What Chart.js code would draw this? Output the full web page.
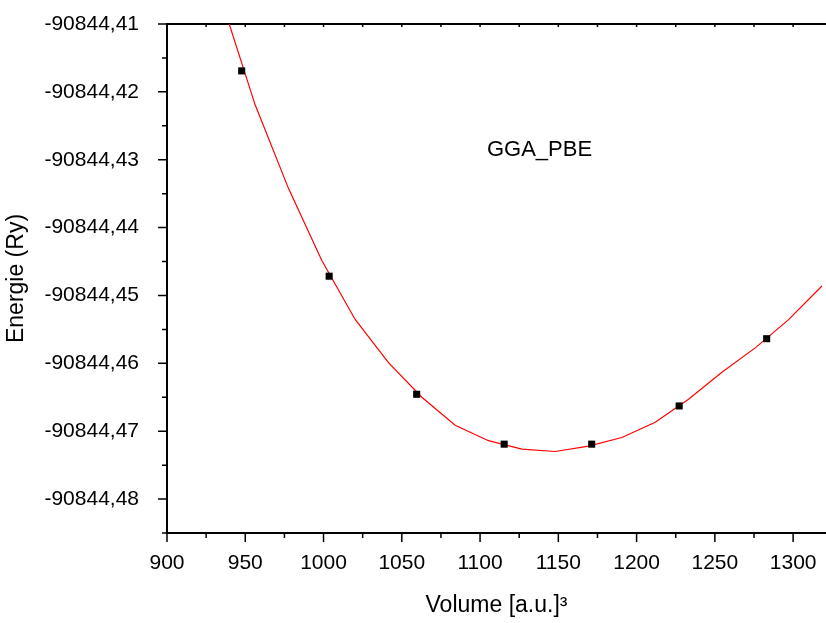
<!DOCTYPE html>
<html>
<head>
<meta charset="utf-8">
<script src="https://cdn.jsdelivr.net/npm/chart.js@4"></script>
<style>
  html, body { margin: 0; padding: 0; background: #fff; }
  #wrap { width: 826px; height: 623px; }
</style>
</head>
<body>
<div id="wrap"><canvas id="eosChart" width="826" height="623"></canvas></div>
<script>
// measured points (volume in a.u.^3, energy in Ry)
const volumes = [947.7, 1003.6, 1059.5, 1115.4, 1171.3, 1227.2, 1283.1];
const energies = [-90844.41691, -90844.44716, -90844.46456, -90844.47191, -90844.47191, -90844.46628, -90844.45637];

// fitted curve
const fitVolumes = [935.0, 956.3, 977.6, 998.9, 1020.2, 1041.5, 1062.8, 1084.1, 1105.4, 1126.7,
                    1148.0, 1169.3, 1190.6, 1211.9, 1233.2, 1254.5, 1275.8, 1297.1, 1318.4];
const fitEnergies = [-90844.40660, -90844.42191, -90844.43422, -90844.44485, -90844.45353, -90844.45990,
                     -90844.46500, -90844.46912, -90844.47140, -90844.47265, -90844.47299, -90844.47220,
                     -90844.47093, -90844.46868, -90844.46529, -90844.46132, -90844.45772, -90844.45356,
                     -90844.44860];

const xTicks = [900, 950, 1000, 1050, 1100, 1150, 1200, 1250, 1300];
const yTicks = [-90844.41, -90844.42, -90844.43, -90844.44, -90844.45, -90844.46, -90844.47, -90844.48];

const FONT = "'Liberation Sans', Arial, Helvetica, sans-serif";

const axesPlugin = {
    id: 'originAxes',
    beforeDatasetsDraw(chart) {
        const {ctx, chartArea: a, scales: {x, y}} = chart;
        ctx.save();
        ctx.strokeStyle = '#000';
        ctx.lineWidth = 2;
        ctx.beginPath();
        // left, bottom and top lines
        ctx.moveTo(a.left, a.top); ctx.lineTo(a.left, a.bottom);
        ctx.moveTo(a.left - 1, a.bottom); ctx.lineTo(a.right, a.bottom);
        ctx.moveTo(a.left - 1, a.top); ctx.lineTo(a.right, a.top);
        ctx.stroke();

        ctx.lineWidth = 1.5;
        ctx.beginPath();
        // x ticks, major + minor (halfway)
        xTicks.forEach(v => {
            const px = x.getPixelForValue(v);
            ctx.moveTo(px, a.bottom); ctx.lineTo(px, a.bottom + 9);
            ctx.moveTo(px, a.top); ctx.lineTo(px, a.top + 3);
            const ph = x.getPixelForValue(v + (xTicks[1] - xTicks[0]) / 2);
            if (ph < a.right) {
                ctx.moveTo(ph, a.bottom); ctx.lineTo(ph, a.bottom + 5);
                ctx.moveTo(ph, a.top); ctx.lineTo(ph, a.top + 3);
            }
        });
        // y ticks
        const yStep = yTicks[0] - yTicks[1];
        yTicks.forEach(v => {
            const py = y.getPixelForValue(v);
            ctx.moveTo(a.left, py); ctx.lineTo(a.left - 9, py);
            const ph = y.getPixelForValue(v - yStep / 2);
            if (ph <= a.bottom + 1) {
                ctx.moveTo(a.left, ph); ctx.lineTo(a.left - 5, ph);
            }
        });
        ctx.stroke();
        ctx.restore();
    },
    afterDraw(chart) {
        const {ctx, scales: {x, y}} = chart;
        ctx.save();
        ctx.fillStyle = '#000';
        ctx.font = '22px ' + FONT;
        ctx.textAlign = 'center';
        ctx.textBaseline = 'alphabetic';
        ctx.fillText('GGA_PBE', x.getPixelForValue(1138), y.getPixelForValue(-90844.4295));
        ctx.restore();
    }
};

function createEosChart() {
    const ctx = document.getElementById('eosChart').getContext('2d');
    new Chart(ctx, {
        type: 'scatter',
        data: {
            datasets: [{
                label: 'points',
                data: volumes.map((v, i) => ({x: v, y: energies[i]})),
                pointStyle: 'rect',
                pointRadius: 5,
                pointHoverRadius: 5,
                backgroundColor: '#000',
                borderColor: '#000',
                borderWidth: 0
            }, {
                label: 'fit',
                data: fitVolumes.map((v, i) => ({x: v, y: fitEnergies[i]})),
                showLine: true,
                pointRadius: 0,
                borderColor: '#ff0000',
                borderWidth: 1.2,
                tension: 0,
                clip: 0
            }]
        },
        options: {
            responsive: false,
            animation: false,
            events: [],
            layout: { autoPadding: false, padding: { top: 24, right: 0, left: 0, bottom: 0 } },
            plugins: { legend: { display: false }, tooltip: { enabled: false } },
            scales: {
                x: {
                    type: 'linear',
                    min: 900,
                    max: 1321,
                    grid: { display: false },
                    border: { display: false },
                    afterBuildTicks: s => { s.ticks = xTicks.map(v => ({value: v})); },
                    afterFit: s => { s.height = 90; s.paddingLeft = 0; s.paddingRight = 0; },
                    ticks: {
                        color: '#000',
                        font: { family: FONT, size: 21 },
                        padding: 10,
                        maxRotation: 0,
                        callback: v => String(v)
                    },
                    title: {
                        display: true,
                        text: 'Volume [a.u.]³',
                        color: '#000',
                        font: { family: FONT, size: 23 },
                        padding: { top: 0, bottom: 4 }
                    }
                },
                y: {
                    type: 'linear',
                    min: -90844.485,
                    max: -90844.41,
                    grid: { display: false },
                    border: { display: false },
                    afterBuildTicks: s => { s.ticks = yTicks.map(v => ({value: v})); },
                    afterFit: s => { s.width = 167; s.paddingTop = 0; s.paddingBottom = 0; },
                    ticks: {
                        color: '#000',
                        font: { family: FONT, size: 21 },
                        padding: 20,
                        callback: v => v.toFixed(2).replace('.', ',')
                    },
                    title: {
                        display: true,
                        text: 'Energie (Ry)',
                        color: '#000',
                        font: { family: FONT, size: 23 },
                        padding: { top: 3, bottom: 0 }
                    }
                }
            }
        },
        plugins: [axesPlugin]
    });
}

document.addEventListener('DOMContentLoaded', function() {
    createEosChart();
});
</script>
</body>
</html>
